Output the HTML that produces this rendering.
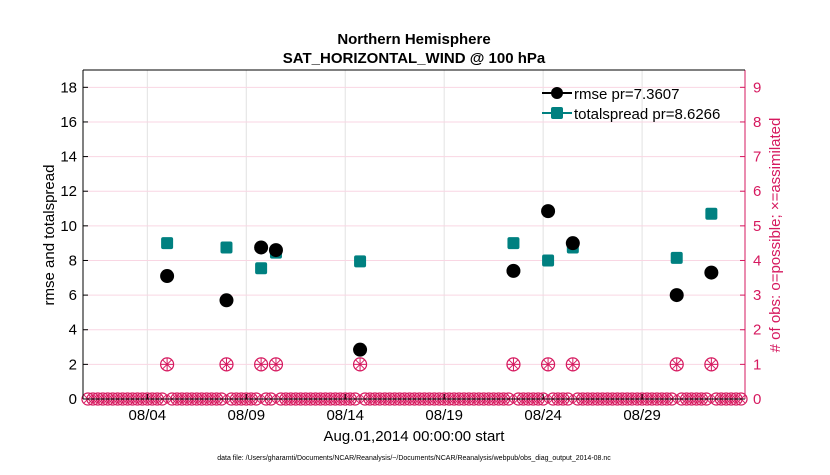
<!DOCTYPE html>
<html><head><meta charset="utf-8"><style>
body{margin:0;background:#fff;}
svg{font-family:"Liberation Sans",sans-serif;}
</style></head><body>
<svg id="c" width="830" height="470" xmlns="http://www.w3.org/2000/svg">
<rect width="830" height="470" fill="#fff"/>
<text x="414" y="44" text-anchor="middle" font-size="15" font-weight="bold">Northern Hemisphere</text>
<text x="414" y="63" text-anchor="middle" font-size="15" font-weight="bold">SAT_HORIZONTAL_WIND @ 100 hPa</text>
<g id="grid"></g><g id="marks"></g><g id="axes"></g>
<text x="414" y="441" text-anchor="middle" font-size="15">Aug.01,2014 00:00:00 start</text>
<text transform="translate(54,235) rotate(-90)" text-anchor="middle" font-size="15">rmse and totalspread</text>
<text transform="translate(780,235) rotate(-90)" text-anchor="middle" font-size="15" fill="#d6195f"># of obs: o=possible; ×=assimilated</text>
<text x="414" y="460" text-anchor="middle" font-size="7">data file: /Users/gharamti/Documents/NCAR/Reanalysis/~/Documents/NCAR/Reanalysis/webpub/obs_diag_output_2014-08.nc</text>
<g>
<line x1="542" y1="93" x2="572" y2="93" stroke="#000" stroke-width="2"/><circle cx="557" cy="93" r="6" fill="#000"/>
<text x="574" y="99" font-size="15">rmse pr=7.3607</text>
<line x1="542" y1="113" x2="572" y2="113" stroke="#008080" stroke-width="2"/><rect x="551" y="107" width="12" height="12" rx="2" fill="#008080"/>
<text x="574" y="119" font-size="15">totalspread pr=8.6266</text>
</g>
</svg>
<script>
const times=[5.0,8.0,9.75,10.5,14.75,22.5,24.25,25.5,30.75,32.5];
const rmse=[7.1,5.7,8.75,8.6,2.85,7.4,10.85,9.0,6.0,7.3];
const spread=[9.0,8.75,7.55,8.45,7.95,9.0,8.0,8.75,8.15,10.7];
const obsCount=[1,1,1,1,1,1,1,1,1,1];
const xTicks=[4,9,14,19,24,29];
const xTickLabels=["08/04","08/09","08/14","08/19","08/24","08/29"];
const yTicks=[0,2,4,6,8,10,12,14,16,18];
const rTicks=[0,1,2,3,4,5,6,7,8,9];
const L=83,R=745,T=70,B=399,D0=0.75,D1=34.2;
const xs=d=>L+(d-D0)/(D1-D0)*(R-L);
const ys=v=>B-v/19*(B-T);
const yr=v=>B-v/9.5*(B-T);
const NS="http://www.w3.org/2000/svg";
function mk(p,t,a){const e=document.createElementNS(NS,t);for(const k in a)e.setAttribute(k,a[k]);document.getElementById(p).appendChild(e);return e;}
mk('grid','rect',{x:L,y:T,width:R-L,height:B-T,fill:'#fff'});
xTicks.forEach((d,i)=>{
 const g=mk('grid','line',{x1:xs(d),x2:xs(d),y1:T,y2:B,stroke:'#e2e2e2'});
 
 const t=mk('axes','text',{x:xs(d),y:B+21,'text-anchor':'middle','font-size':15});
 t.textContent=xTickLabels[i];
 
 mk('axes','line',{x1:xs(d),x2:xs(d),y1:B,y2:B-5,stroke:'#000'});
});
rTicks.forEach(v=>{
 if(v>0){const g=mk('grid','line',{x1:L,x2:R,y1:yr(v),y2:yr(v),stroke:'#f9d6e3'});
 }
 const t=mk('axes','text',{x:R+8,y:yr(v)+5,'font-size':15,fill:'#d6195f'});t.textContent=v;
 
 mk('axes','line',{x1:R,x2:R-5,y1:yr(v),y2:yr(v),stroke:'#d6195f'});
});
yTicks.forEach(v=>{
 const t=mk('axes','text',{x:L-6,y:ys(v)+5,'text-anchor':'end','font-size':15});t.textContent=v;
 
 mk('axes','line',{x1:L,x2:L+5,y1:ys(v),y2:ys(v),stroke:'#000'});
});
mk('axes','line',{x1:L,x2:L,y1:T,y2:B,stroke:'#000'});
mk('axes','line',{x1:L,x2:R,y1:B,y2:B,stroke:'#000'});
mk('axes','line',{x1:R,x2:R,y1:T,y2:B,stroke:'#d6195f'});
mk('axes','line',{x1:L,x2:R,y1:T,y2:T,stroke:'#000'});
function obsMark(x,y,r,cross){
 const c=mk('marks','circle',{cx:x,cy:y,r:r,fill:'none',stroke:'#d6195f','stroke-width':1.2});
 
 mk('marks','line',{x1:x-r*0.7,y1:y-r*0.7,x2:x+r*0.7,y2:y+r*0.7,stroke:'#d6195f','stroke-width':1});
 mk('marks','line',{x1:x-r*0.7,y1:y+r*0.7,x2:x+r*0.7,y2:y-r*0.7,stroke:'#d6195f','stroke-width':1});
 if(cross){mk('marks','line',{x1:x-r,y1:y,x2:x+r,y2:y,stroke:'#d6195f','stroke-width':1});
 mk('marks','line',{x1:x,y1:y-r,x2:x,y2:y+r,stroke:'#d6195f','stroke-width':1});}
}
for(let d=1;d<=34;d+=0.25){
 if(times.some(t=>Math.abs(t-d)<0.01))continue;
 obsMark(xs(d),B,6,false);
}
times.forEach((d,i)=>obsMark(xs(d),yr(obsCount[i]),6.5,true));
times.forEach((d,i)=>{
 const s=mk('marks','rect',{x:xs(d)-6,y:ys(spread[i])-6,width:12,height:12,rx:2,fill:'#008080'});
 
 const c=mk('marks','circle',{cx:xs(d),cy:ys(rmse[i]),r:7,fill:'#000'});
 
});
</script>
</body></html>
